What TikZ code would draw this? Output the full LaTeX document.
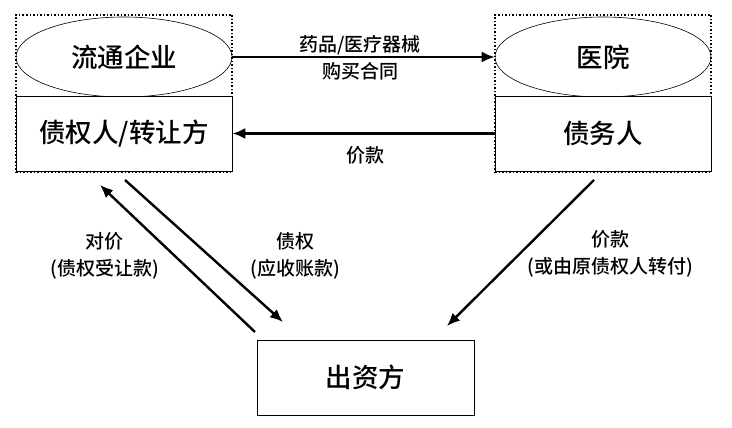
\documentclass[tikz,border=0pt]{standalone}
\usepackage{fontspec}
\setmainfont{Noto Sans CJK SC}[BoldFont = * Medium]
\usepackage{tikz}
\usetikzlibrary{arrows.meta,shapes.geometric,calc}

\begin{document}
\begin{tikzpicture}[x=1pt,y=-1pt]
\tikzset{
	frame node/.style = {draw, dotted, line width = 1.5pt, minimum width = 216pt, minimum height = 157pt, inner sep = 0},
	party node/.style = {ellipse, draw, line width = .6pt, minimum width = 216pt, minimum height = 80pt, inner sep = 0, font = \fontsize{26.5}{30}\selectfont\bfseries},
	role node/.style = {draw, fill = white, line width = .8pt, minimum width = 216pt, minimum height = 75pt, inner sep = 0, font = \fontsize{26.5}{30}\selectfont\bfseries},
	flow/.style = {line width = 2.4pt, -{Latex[length = 13pt, width = 11pt]}},
	flow label/.style = {align = center, font = \fontsize{19}{27}\selectfont\bfseries},
}
\useasboundingbox (0,0) rectangle (732,428);
% left party
\node(qiyeframe)[frame node] at (124,93.5){};
\node(qiye)[party node] at (124,57){流通企业};
\node(zhaiquan)[role node] at (124,133.5){债权人/转让方};
% right party
\node(yiyuanframe)[frame node] at (603,93.5){};
\node(yiyuan)[party node] at (603,57){医院};
\node(zhaiwu)[role node] at (603,133.5){债务人};
% funder
\node(chuzi)[role node, minimum width = 217pt, minimum height = 75pt] at (365.5,377.5){出资方};
% free ends of the slanted arrows
\coordinate(a1) at (255,332);
\coordinate(a2) at (100,185);
\coordinate(b1) at (125,180);
\coordinate(b2) at (283,322);
\coordinate(c1) at (594,180);
\coordinate(c2) at (447,326);
\draw[flow] (qiye.east) -- (yiyuan.west);
\draw[flow] (zhaiwu.west) -- (zhaiquan.east);
\draw[flow] (a1) -- (a2);
\draw[flow] (b1) -- (b2);
\draw[flow] (c1) -- (c2);
\node(hetong)[flow label] at (360,58){药品/医疗器械\\购买合同};
\node(jiakuan)[flow label] at (365,155){价款};
\node(duijia)[flow label] at (105,256){对价\\(债权受让款)};
\node(zhaiquanlabel)[flow label] at (295,256){债权\\(应收账款)};
\node(jiakuan2)[flow label] at (610,254){价款\\(或由原债权人转付)};
\end{tikzpicture}
\end{document}
